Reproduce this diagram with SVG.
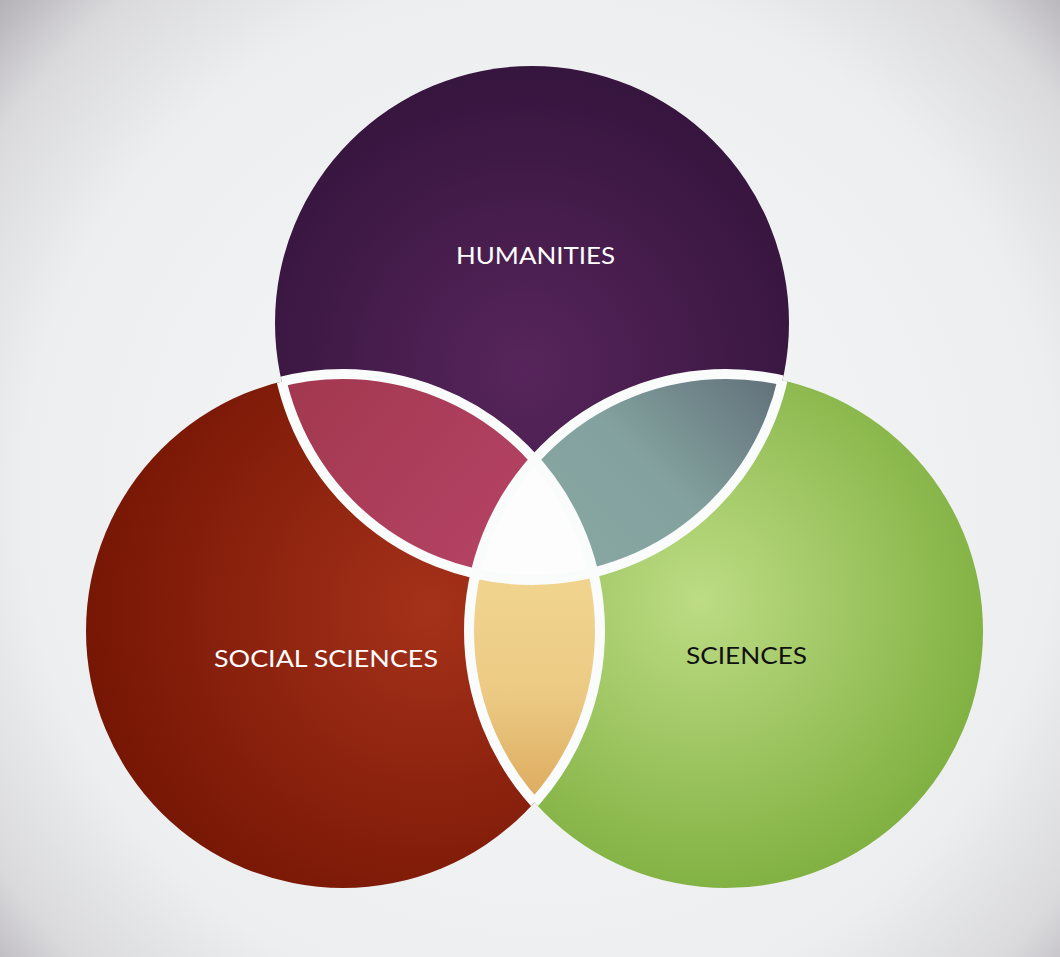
<svg xmlns="http://www.w3.org/2000/svg" width="1060" height="957" viewBox="0 0 1060 957">
  <defs>
    <radialGradient id="bg" gradientUnits="userSpaceOnUse" cx="540" cy="500" r="740">
      <stop offset="0" stop-color="#f7f8f8"/>
      <stop offset="0.7" stop-color="#edeeef"/>
      <stop offset="0.88" stop-color="#dadadd"/>
      <stop offset="1" stop-color="#b3afb5"/>
    </radialGradient>
    <radialGradient id="gHum" gradientUnits="userSpaceOnUse" cx="525" cy="370" r="300">
      <stop offset="0" stop-color="#57255b"/>
      <stop offset="1" stop-color="#36153e"/>
    </radialGradient>
    <radialGradient id="gSoc" gradientUnits="userSpaceOnUse" cx="430" cy="610" r="360">
      <stop offset="0" stop-color="#a5311a"/>
      <stop offset="1" stop-color="#741503"/>
    </radialGradient>
    <radialGradient id="gSci" gradientUnits="userSpaceOnUse" cx="700" cy="600" r="350">
      <stop offset="0" stop-color="#bddc84"/>
      <stop offset="1" stop-color="#76a936"/>
    </radialGradient>
    <linearGradient id="gHS" gradientUnits="userSpaceOnUse" x1="290" y1="380" x2="520" y2="570">
      <stop offset="0" stop-color="#a2384f"/>
      <stop offset="1" stop-color="#b64366"/>
    </linearGradient>
    <linearGradient id="gHN" gradientUnits="userSpaceOnUse" x1="780" y1="380" x2="600" y2="560">
      <stop offset="0" stop-color="#61707a"/>
      <stop offset="0.6" stop-color="#83a19e"/>
      <stop offset="1" stop-color="#87a6a2"/>
    </linearGradient>
    <linearGradient id="gSN" gradientUnits="userSpaceOnUse" x1="0" y1="585" x2="0" y2="800">
      <stop offset="0" stop-color="#f0d48e"/>
      <stop offset="0.5" stop-color="#ecca84"/>
      <stop offset="1" stop-color="#ddab5f"/>
    </linearGradient>
    <clipPath id="cSoc"><circle cx="343" cy="631" r="257"/></clipPath>
    <clipPath id="cSci"><circle cx="726" cy="631" r="257"/></clipPath>
    <clipPath id="cNotHum">
      <circle cx="343" cy="631" r="257"/>
      <circle cx="726" cy="631" r="257"/>
    </clipPath>
    <clipPath id="cNotSoc">
      <circle cx="532" cy="323" r="257"/>
      <circle cx="726" cy="631" r="257"/>
    </clipPath>
    <clipPath id="cNotSci">
      <circle cx="532" cy="323" r="257"/>
      <circle cx="343" cy="631" r="257"/>
    </clipPath>
  </defs>
  <style>
    .label { font-family: "Lato", "Noto Sans", "Liberation Sans", sans-serif; font-size: 24px; }
    .light { fill: #ffffff; }
    .dark { fill: #111111; }
    .sep { fill: none; stroke: #fafbfb; stroke-width: 10; }
  </style>

  <rect width="1060" height="957" fill="url(#bg)"/>

  <!-- main sets -->
  <g id="humanities">
    <circle cx="532" cy="323" r="257" fill="url(#gHum)"/>
    <text class="label light" x="456" y="264" textLength="159" lengthAdjust="spacingAndGlyphs">HUMANITIES</text>
  </g>
  <g id="social-sciences">
    <circle cx="343" cy="631" r="257" fill="url(#gSoc)"/>
  </g>
  <g id="sciences">
    <circle cx="726" cy="631" r="257" fill="url(#gSci)"/>
  </g>

  <!-- overlaps -->
  <g id="humanities-social" clip-path="url(#cSoc)">
    <circle cx="532" cy="323" r="257" fill="url(#gHS)"/>
  </g>
  <g id="humanities-sciences" clip-path="url(#cSci)">
    <circle cx="532" cy="323" r="257" fill="url(#gHN)"/>
  </g>
  <g id="social-sciences-overlap" clip-path="url(#cSci)">
    <circle cx="343" cy="631" r="257" fill="url(#gSN)"/>
  </g>
  <g id="center" clip-path="url(#cSci)">
    <g clip-path="url(#cSoc)">
      <circle cx="532" cy="323" r="257" fill="#fdfdfd"/>
    </g>
  </g>

  <!-- white separators where the circles cross -->
  <g id="separators">
    <circle class="sep" cx="532" cy="323" r="257" clip-path="url(#cNotHum)"/>
    <circle class="sep" cx="343" cy="631" r="257" clip-path="url(#cNotSoc)"/>
    <circle class="sep" cx="726" cy="631" r="257" clip-path="url(#cNotSci)"/>
  </g>

  <g id="labels">
    <text class="label light" x="214" y="667" textLength="224" lengthAdjust="spacingAndGlyphs">SOCIAL SCIENCES</text>
    <text class="label dark" x="686" y="664" textLength="121" lengthAdjust="spacingAndGlyphs">SCIENCES</text>
  </g>
</svg>
